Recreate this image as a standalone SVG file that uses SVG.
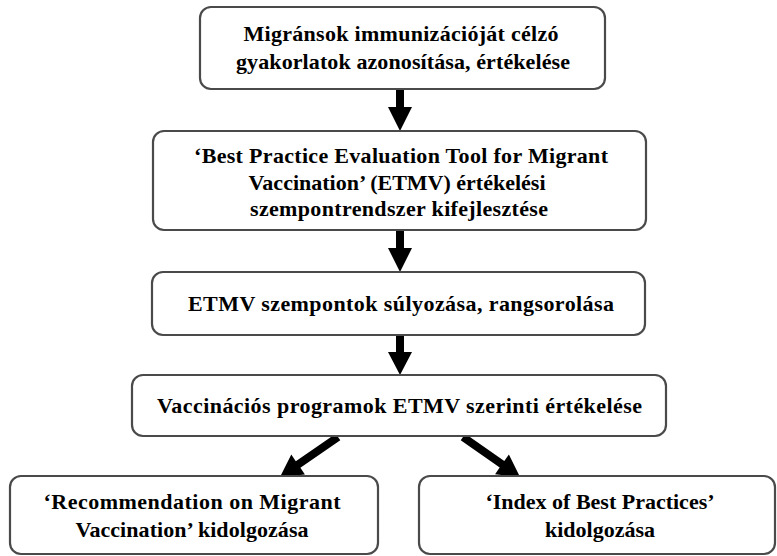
<svg xmlns="http://www.w3.org/2000/svg" width="777" height="556" viewBox="0 0 777 556">
<style>
.box{fill:#fff;stroke:#4a4a4a;stroke-width:2.2}
.t{font-family:"Liberation Serif","Times New Roman",serif;font-weight:bold;font-size:22px;fill:#000;text-anchor:middle}
.a{fill:#000;stroke:none}
</style>
<rect width="777" height="556" fill="#fff"/>
<g id="connectors">
<path class="a" d="M396,88 L404,88 L404,107 L412,107 L400,131 L388,107 L396,107 Z"/>
<path class="a" d="M396,229 L404,229 L404,248 L412,248 L400,272 L388,248 L396,248 Z"/>
<path class="a" d="M396,335 L404,335 L404,352 L412,352 L400,375 L388,352 L396,352 Z"/>
<path class="a" d="M335.7,433.7 L340.3,440.3 L300.4,467.8 L304.9,474.4 L280,477 L291.3,454.6 L295.8,461.2 Z"/>
<path class="a" d="M465.3,433.7 L460.7,440.3 L499.7,467.6 L495.1,474.2 L520,477 L508.9,454.5 L504.3,461.1 Z"/>
</g>
<g id="n1"><rect class="box" x="200" y="7" width="405" height="82" rx="11"/>
<text class="t" x="401" y="41" textLength="315">Migránsok immunizációját célzó</text>
<text class="t" x="403" y="69" textLength="334">gyakorlatok azonosítása, értékelése</text></g>
<g id="n2"><rect class="box" x="153" y="131" width="493" height="99" rx="11"/>
<text class="t" x="401" y="163" textLength="414">‘Best Practice Evaluation Tool for Migrant</text>
<text class="t" x="397" y="190" textLength="297">Vaccination’ (ETMV) értékelési</text>
<text class="t" x="399" y="216" textLength="298">szempontrendszer kifejlesztése</text></g>
<g id="n3"><rect class="box" x="152" y="272" width="493" height="63" rx="11"/>
<text class="t" x="401" y="311" textLength="426">ETMV szempontok súlyozása, rangsorolása</text></g>
<g id="n4"><rect class="box" x="132" y="375" width="534" height="61" rx="11"/>
<text class="t" x="399.5" y="413" textLength="485">Vaccinációs programok ETMV szerinti értékelése</text></g>
<g id="n5"><rect class="box" x="10" y="476" width="368" height="78" rx="11"/>
<text class="t" x="192" y="509" textLength="297">‘Recommendation on Migrant</text>
<text class="t" x="192" y="537" textLength="233">Vaccination’ kidolgozása</text></g>
<g id="n6"><rect class="box" x="419" y="476" width="356" height="78" rx="11"/>
<text class="t" x="600" y="509">‘Index of Best Practices’</text>
<text class="t" x="600" y="537">kidolgozása</text></g>
</svg>
